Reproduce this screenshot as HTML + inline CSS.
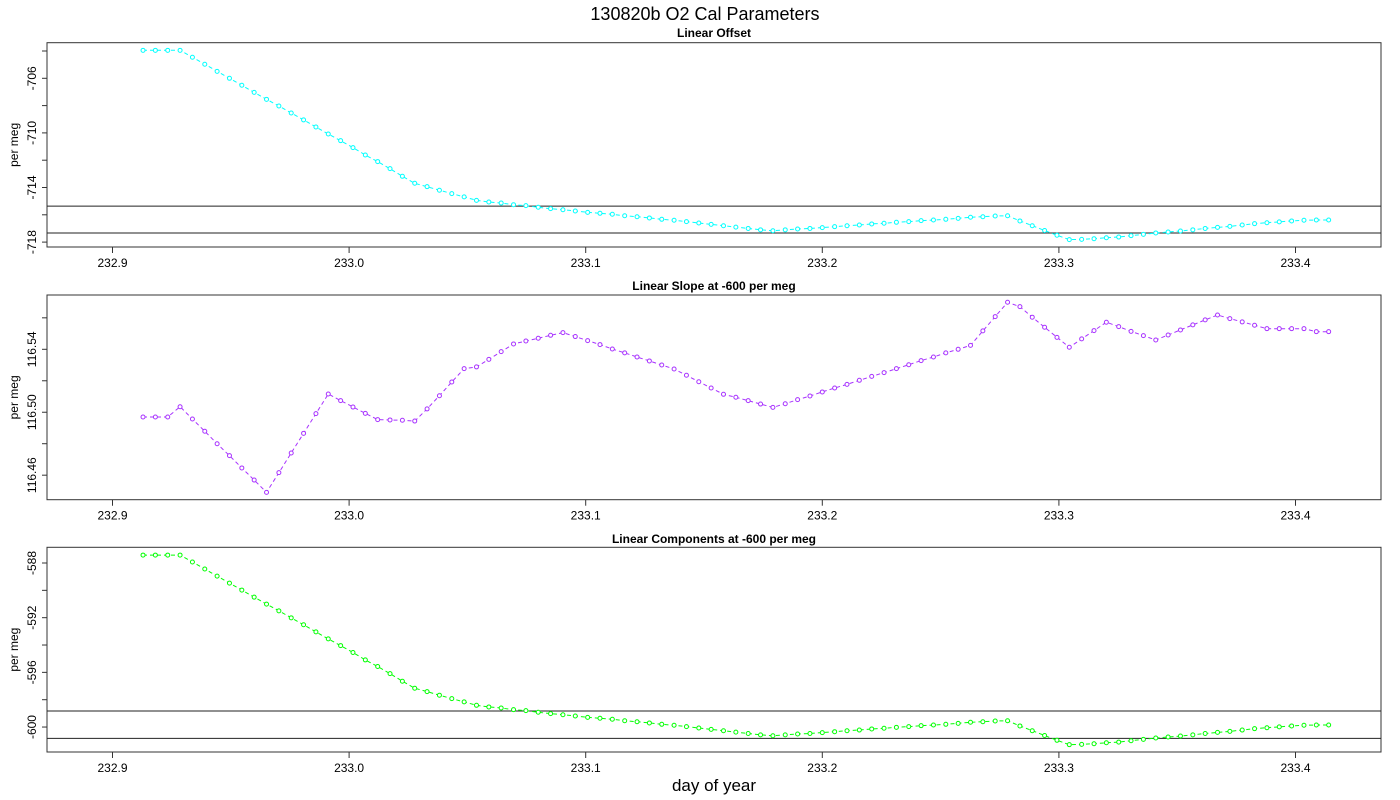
<!DOCTYPE html>
<html><head><meta charset="utf-8"><style>
html,body{margin:0;padding:0;background:#fff;}
svg{display:block;font-family:"Liberation Sans",sans-serif;}
</style></head><body>
<svg id="chart" width="1400" height="800" viewBox="0 0 1400 800">
<text x="705" y="20" text-anchor="middle" font-size="18">130820b   O2 Cal Parameters</text>
<text x="714" y="791" text-anchor="middle" font-size="17">day of year</text>
</svg>
<script>
const t0 = 232.9129;
const dt = 0.00522;
const xTicks = [232.9, 233.0, 233.1, 233.2, 233.3, 233.4];
const xTickLabels = ["232.9", "233.0", "233.1", "233.2", "233.3", "233.4"];

const offsetValues = [-703.95,-703.95,-703.95,-703.95,-704.46,-704.97,-705.49,-706.0,-706.51,-707.03,-707.54,-708.03,-708.54,-709.05,-709.57,-710.08,-710.57,-711.08,-711.62,-712.1,-712.62,-713.18,-713.69,-713.94,-714.2,-714.45,-714.69,-714.94,-715.06,-715.14,-715.26,-715.33,-715.45,-715.55,-715.63,-715.72,-715.82,-715.89,-715.96,-716.07,-716.14,-716.23,-716.33,-716.4,-716.5,
-716.6,-716.7,-716.8,-716.9,-717.0,-717.1,-717.17,-717.1,-717.04,-717.0,-716.94,-716.87,-716.8,-716.75,-716.67,-716.62,-716.55,-716.5,-716.43,-716.38,-716.33,-716.26,-716.18,-716.14,-716.09,-716.07,-716.45,-716.8,-717.15,-717.5,-717.82,-717.8,-717.75,-717.68,-717.63,-717.53,-717.43,-717.33,-717.26,-717.19,-717.1,-717.0,-716.92,-716.85,-716.75,-716.65,-716.58,-716.52,-716.45,-716.4,-716.38,-716.38];
const offsetRefLines = [-715.36, -717.33];
const offsetTicks = [-718,-716,-714,-712,-710,-708,-706,-704];
const offsetTickLabels = ["-718","","-714","","-710","","-706",""];

const slopeValues = [116.4970,116.4970,116.4970,116.5035,116.4957,116.4879,116.4800,116.4724,116.4646,116.4569,116.4491,116.4616,116.4741,116.4866,116.4991,116.5116,116.5074,116.5033,116.4993,116.4953,116.4951,116.4949,116.4944,116.5021,116.5105,116.5192,116.5277,116.5288,116.5336,116.5385,116.5434,116.5453,116.5470,116.5489,116.5506,116.5481,116.5455,116.5430,116.5402,116.5377,116.5351,116.5326,116.5300,116.5275,116.5235,
116.5194,116.5154,116.5114,116.5095,116.5074,116.5052,116.5031,116.5054,116.5080,116.5103,116.5129,116.5154,116.5177,116.5203,116.5228,116.5252,116.5277,116.5302,116.5328,116.5351,116.5377,116.5400,116.5425,116.5517,116.5608,116.5699,116.5671,116.5604,116.5540,116.5476,116.5413,116.5466,116.5519,116.5572,116.5544,116.5514,116.5487,116.5459,116.5491,116.5523,116.5555,116.5587,116.5618,116.5595,116.5574,116.5553,116.5531,116.5531,116.5531,116.5531,116.5512,116.5512];
const slopeRefLines = [];
const slopeTicks = [116.46,116.48,116.50,116.52,116.54,116.56];
const slopeTickLabels = ["116.46","","116.50","","116.54",""];

const compValues = [-587.42,-587.42,-587.42,-587.42,-587.93,-588.44,-588.96,-589.47,-589.98,-590.5,-591.01,-591.5,-592.01,-592.52,-593.04,-593.55,-594.04,-594.55,-595.09,-595.57,-596.09,-596.65,-597.16,-597.41,-597.67,-597.92,-598.16,-598.41,-598.53,-598.61,-598.73,-598.8,-598.92,-599.02,-599.1,-599.19,-599.29,-599.36,-599.43,-599.54,-599.61,-599.7,-599.8,-599.87,-599.97,
-600.07,-600.17,-600.27,-600.37,-600.47,-600.57,-600.64,-600.57,-600.51,-600.47,-600.41,-600.34,-600.27,-600.22,-600.14,-600.09,-600.02,-599.97,-599.9,-599.85,-599.8,-599.73,-599.65,-599.61,-599.56,-599.54,-599.92,-600.27,-600.62,-600.97,-601.29,-601.27,-601.22,-601.15,-601.1,-601.0,-600.9,-600.8,-600.73,-600.66,-600.57,-600.47,-600.39,-600.32,-600.22,-600.12,-600.05,-599.99,-599.92,-599.87,-599.85,-599.85];
const compRefLines = [-598.83, -600.83];
const compTicks = [-600,-598,-596,-594,-592,-590,-588];
const compTickLabels = ["-600","","-596","","-592","","-588"];

const NS = "http://www.w3.org/2000/svg";
const svg = document.getElementById("chart");
function mk(tag, attrs, parent) {
  const e = document.createElementNS(NS, tag);
  for (const k in attrs) e.setAttribute(k, attrs[k]);
  (parent || svg).appendChild(e);
  return e;
}
const X0 = 47, X1 = 1381;
function xScale(d) { return 112.5 + (d - 232.9) * 2366; }

const panels = [
  {name:"linear-offset", title:"Linear Offset", top:42.7, bottom:247, refV:-706, refY:78.3, ppu:13.65,
   values:offsetValues, lines:offsetRefLines, ticks:offsetTicks, labels:offsetTickLabels, color:"#00ffff", titleY:37},
  {name:"linear-slope", title:"Linear Slope at -600 per meg", top:295, bottom:499.7, refV:116.54, refY:349.3, ppu:1573.5,
   values:slopeValues, lines:slopeRefLines, ticks:slopeTicks, labels:slopeTickLabels, color:"#a833ff", titleY:290},
  {name:"linear-components", title:"Linear Components at -600 per meg", top:547.3, bottom:752, refV:-588, refY:563, ppu:13.67,
   values:compValues, lines:compRefLines, ticks:compTicks, labels:compTickLabels, color:"#00ff00", titleY:543}
];

panels.forEach(p => {
  const g = mk("g", {});
  
  
  const yScale = v => p.refY + (p.refV - v) * p.ppu;
  const t = mk("text", {x:714, y:p.titleY, "text-anchor":"middle", "font-size":12, "font-weight":"bold"}, g);
  t.textContent = p.title;
  
  
  const box = mk("rect", {x:X0, y:p.top, width:X1-X0, height:p.bottom-p.top, fill:"none", stroke:"#333", "stroke-width":1}, g);
  
  
  // x axis
  xTicks.forEach((d, i) => {
    const x = xScale(d);
    const tk = mk("line", {x1:x, x2:x, y1:p.bottom, y2:p.bottom+6, stroke:"#333"}, g);
    
    
    const lb = mk("text", {x:x, y:p.bottom+20, "text-anchor":"middle", "font-size":12}, g);
    lb.textContent = xTickLabels[i];
    
    
  });
  // y axis
  p.ticks.forEach((v, i) => {
    const y = yScale(v);
    if (y < p.top - 1 || y > p.bottom + 1) return;
    const tk = mk("line", {x1:X0-5, x2:X0, y1:y, y2:y, stroke:"#333"}, g);
    
    
    if (p.labels[i]) {
      const lb = mk("text", {x:36, y:y, "text-anchor":"middle", "font-size":12, transform:"rotate(-90 36 "+y+")"}, g);
      lb.textContent = p.labels[i];
      
      
    }
  });
  const yt = mk("text", {x:18, y:(p.top+p.bottom)/2, "text-anchor":"middle", "font-size":12, transform:"rotate(-90 18 "+((p.top+p.bottom)/2)+")"}, g);
  yt.textContent = "per meg";
  
  
  // reference lines
  p.lines.forEach(v => {
    const y = yScale(v);
    const l = mk("line", {x1:X0, x2:X1, y1:y, y2:y, stroke:"#222", "stroke-width":1}, g);
    
    
  });
  // series
  const pts = p.values.map((v, i) => [xScale(t0 + i*dt), yScale(v)]);
  const pl = mk("polyline", {points: pts.map(q => q[0].toFixed(1)+","+q[1].toFixed(1)).join(" "), fill:"none", stroke:p.color, "stroke-width":1, "stroke-dasharray":"4,3"}, g);
  
  
  pts.forEach(q => {
    const c = mk("circle", {cx:q[0], cy:q[1], r:2, fill:"#fff", stroke:p.color, "stroke-width":1}, g);
    
    
  });
});
</script>
</body></html>
